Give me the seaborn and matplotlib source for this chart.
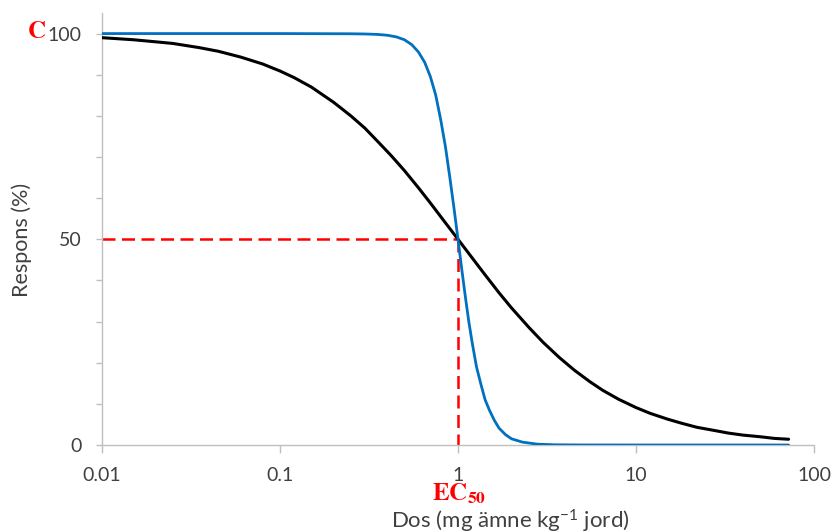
import matplotlib
matplotlib.use("Agg")
import matplotlib.pyplot as plt
from matplotlib.ticker import FixedLocator, MultipleLocator, NullLocator
import seaborn as sns
import pandas as pd

# ---- data ----
black_dose = [0.01, 0.015, 0.02, 0.025, 0.035, 0.045, 0.06, 0.08, 0.1, 0.12,
              0.15, 0.2, 0.25, 0.3, 0.35, 0.42, 0.5, 0.6, 0.7, 0.85, 1.0,
              1.2, 1.4, 1.7, 2.0, 2.5, 3.0, 3.7, 4.5, 5.5, 6.5, 8, 10, 12, 15,
              18, 22, 27, 33, 40, 50, 60, 72]
black_resp = [99.0, 98.5, 98.0, 97.6, 96.6, 95.7, 94.3, 92.6, 90.9, 89.3,
              87.0, 83.3, 80.0, 77.0, 74.0, 70.4, 66.7, 62.5, 58.8, 54.0, 50.0,
              45.5, 41.7, 37.0, 33.3, 28.6, 25.0, 21.3, 18.2, 15.4, 13.3, 11.1,
              9.1, 7.7, 6.3, 5.3, 4.3, 3.6, 2.9, 2.4, 2.0, 1.6, 1.4]

blue_dose = [0.01, 0.1, 0.25, 0.3, 0.35, 0.4, 0.45, 0.5, 0.55, 0.6, 0.65, 0.7,
             0.75, 0.8, 0.85, 0.9, 0.95, 1.0, 1.05, 1.1, 1.15, 1.2, 1.27, 1.35,
             1.42, 1.5, 1.6, 1.7, 1.85, 2.0, 2.3, 2.8, 3.5, 5, 10, 30, 72]
blue_resp = [100, 100, 99.95, 99.9, 99.8, 99.6, 99.2, 98.5, 97.3, 95.5, 93.0,
             89.5, 85.0, 79.0, 72.5, 65.0, 57.5, 50.0, 42.7, 36.0, 30.0, 25.0,
             19.0, 14.5, 11.0, 8.5, 6.0, 4.1, 2.5, 1.5, 0.7, 0.2, 0.05, 0.01,
             0, 0, 0]

ec50 = 1.0
half_resp = 50
x_ticks = [0.01, 0.1, 1, 10, 100]
x_tick_labels = ["0.01", "0.1", "1", "10", "100"]
y_ticks = [0, 50, 100]

sns.set_style("white")
plt.rcParams["font.family"] = ["Lato", "DejaVu Sans"]
plt.rcParams["mathtext.fontset"] = "custom"
plt.rcParams["mathtext.rm"] = "Lato"
plt.rcParams["mathtext.it"] = "Lato:italic"
plt.rcParams["mathtext.bf"] = "Lato:bold"

fig = plt.figure(figsize=(8.33, 5.32), dpi=100)
ax = fig.add_axes([102/833, 1-445/532, (814-102)/833, (445-13)/532])

grey = "#BFBFBF"
txt = "#404040"

# red dashed EC50 guides
ax.plot([x_ticks[0], ec50], [half_resp, half_resp], color="#FF0000", lw=1.8,
        dashes=(5.2, 2.6), zorder=2)
ax.plot([ec50, ec50], [half_resp, 0], color="#FF0000", lw=1.8,
        dashes=(5.2, 2.6), zorder=2)

df_black = pd.DataFrame({"dose": black_dose, "resp": black_resp})
df_blue = pd.DataFrame({"dose": blue_dose, "resp": blue_resp})
sns.lineplot(data=df_black, x="dose", y="resp", ax=ax, color="black", lw=2.2,
             zorder=3, sort=True)
sns.lineplot(data=df_blue, x="dose", y="resp", ax=ax, color="#0070C0", lw=2.0,
             zorder=4, sort=True)

ax.set_xscale("log")
ax.set_xlim(0.01, 100)
ax.set_ylim(0, 105)
ax.xaxis.set_major_locator(FixedLocator(x_ticks))
ax.xaxis.set_minor_locator(NullLocator())
ax.set_xticklabels(x_tick_labels)
ax.yaxis.set_major_locator(FixedLocator(y_ticks))
ax.yaxis.set_minor_locator(MultipleLocator(10))

for s in ["top", "right"]:
    ax.spines[s].set_visible(False)
for s in ["left", "bottom"]:
    ax.spines[s].set_color(grey)
    ax.spines[s].set_linewidth(1.0)

ax.tick_params(axis="x", which="major", direction="out", length=6, width=1,
               color=grey, labelsize=14, labelcolor=txt, pad=10, bottom=True)
ax.tick_params(axis="y", which="both", direction="out", length=4.5, width=1,
               color=grey, left=True)
ax.tick_params(axis="y", which="major", labelsize=14, labelcolor=txt, pad=10)

ax.set_xlabel("")
ax.set_ylabel("")

fig.text(22/833, 1-240/532, "Respons (%)", fontsize=15.5, color=txt,
         rotation=90, ha="center", va="center")
fig.text(510/833, 1-521/532, r"Dos (mg ämne kg$^{-1}$ jord)", fontsize=16,
         color=txt, ha="center", va="center")

fig.text(459/833, 1-494/532, r"$\mathbf{EC_{50}}$", fontsize=18, color="#FF0000",
         ha="center", va="center", math_fontfamily="stix")
fig.text(37/833, 1-31/532, r"$\mathbf{C}$", fontsize=18, color="#FF0000",
         ha="center", va="center", math_fontfamily="stix")

fig.savefig("out.png", dpi=100)
